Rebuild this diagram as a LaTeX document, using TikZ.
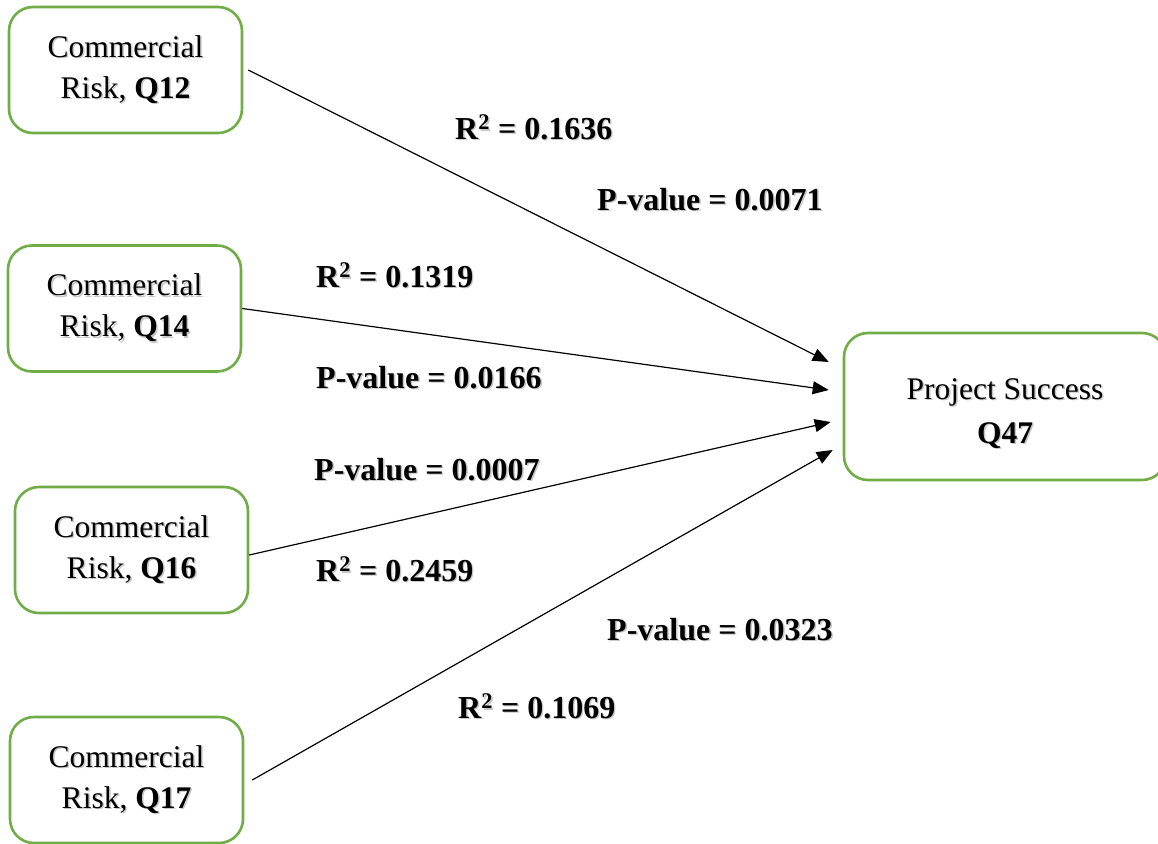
\documentclass[tikz,border=0pt]{standalone}
\usepackage{fontspec}
\setmainfont{Liberation Serif}
\usetikzlibrary{arrows.meta,calc}
\definecolor{boxgreen}{HTML}{70AD47}
% text with a soft drop shadow
\newcommand\shd[1]{\makebox[0pt][l]{\hspace{1.5pt}\raisebox{-1.5pt}{\color{black!22}#1}}#1}
\begin{document}
\begin{tikzpicture}[x=1pt,y=-1pt,
  riskbox/.style={draw=boxgreen, line width=2.6pt, rounded corners=24pt,
    minimum width=233pt, minimum height=126pt, align=center,
    font=\fontsize{31.5}{41}\selectfont},
  lbl/.style={anchor=base west, inner sep=0pt, font=\fontsize{32}{41}\selectfont\bfseries},
  arr/.style={-{Triangle[length=16pt,width=13pt]}, line width=1.2pt}]
\fill[white] (0,0) rectangle (1158,843);
\useasboundingbox (0,0) rectangle (1158,843);

% source factors
\node[riskbox] (q12) at (125.5,70)  {\shd{Commercial}\\\shd{Risk, \textbf{Q12}}};
\node[riskbox] (q14) at (124.5,308.5) {\shd{Commercial}\\\shd{Risk, \textbf{Q14}}};
\node[riskbox] (q16) at (131.5,550) {\shd{Commercial}\\\shd{Risk, \textbf{Q16}}};
\node[riskbox] (q17) at (126.5,780) {\shd{Commercial}\\\shd{Risk, \textbf{Q17}}};

% outcome
\node[riskbox, minimum width=322pt, minimum height=147pt,
      font=\fontsize{31.5}{44}\selectfont] (ps) at (1005,406.5)
  {\rule{0pt}{36pt}\shd{Project Success}\\\shd{\textbf{Q47}}};

% regression paths
\draw[arr] ([xshift=5pt]q12.east) -- ($(ps.west)+(-14,-44.5)$);
\draw[arr] (q14.east) -- ($(ps.west)+(-14,-16.5)$);
\draw[arr] ([yshift=-5pt]q16.east) -- ($(ps.west)+(-12,15.5)$);
\draw[arr] ([xshift=8pt]q17.east) -- ($(ps.west)+(-10,43.5)$);

% path statistics
\node[lbl] (r1) at (455,139) {\shd{R\textsuperscript{2} = 0.1636}};
\node[lbl] (p1) at (597,210) {\shd{P-value = 0.0071}};
\node[lbl] (r2) at (316,287) {\shd{R\textsuperscript{2} = 0.1319}};
\node[lbl] (p2) at (316,388) {\shd{P-value = 0.0166}};
\node[lbl] (p3) at (314,480) {\shd{P-value = 0.0007}};
\node[lbl] (r3) at (316,581) {\shd{R\textsuperscript{2} = 0.2459}};
\node[lbl] (p4) at (607,640) {\shd{P-value = 0.0323}};
\node[lbl] (r4) at (458,718) {\shd{R\textsuperscript{2} = 0.1069}};
\end{tikzpicture}
\end{document}
